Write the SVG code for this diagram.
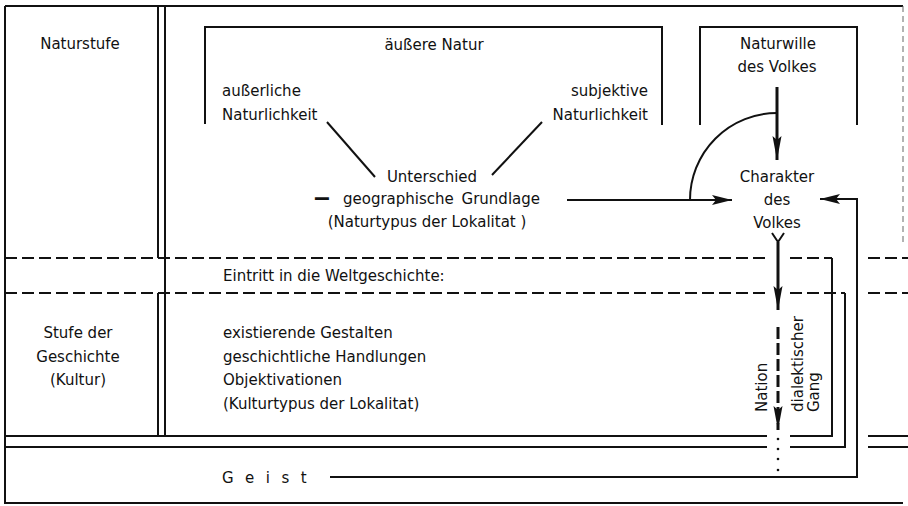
<svg xmlns="http://www.w3.org/2000/svg" width="908" height="506" viewBox="0 0 908 506">
<style>
  text { font-family: "DejaVu Sans", "Liberation Sans", sans-serif; font-size: 15px; fill: #111; }
  .mid { text-anchor: middle; }
  .end { text-anchor: end; }
  .ln { stroke: #111; stroke-width: 2; fill: none; }
  .dash { stroke: #111; stroke-width: 2; fill: none; stroke-dasharray: 12 5; }
  .thick { stroke: #111; stroke-width: 3; fill: none; }
  .faint { stroke: #666; stroke-width: 1; fill: none; stroke-dasharray: 6 4; }
</style>
<defs>
  <marker id="ah" markerUnits="userSpaceOnUse" markerWidth="20" markerHeight="10" refX="20" refY="5" orient="auto">
    <path d="M0,0 L20,5 L0,10 L4,5 z" fill="#111"/>
  </marker>
  <marker id="ahl" markerUnits="userSpaceOnUse" markerWidth="24" markerHeight="10" refX="24" refY="5" orient="auto">
    <path d="M0,0.5 L24,5 L0,9.5 L4,5 z" fill="#111"/>
  </marker>
</defs>
<rect width="908" height="506" fill="#fff"/>

<g id="frame">
  <path class="ln" d="M5,6 H903 M5,6 V503 H903"/>
  <path class="faint" d="M903,6 V245"/>
  <path class="ln" d="M158,6 V258 M165,6 V436 M158,293 V436"/>
  <path class="dash" d="M5,258 H767 M790,258 H832 M868,258 H908"/>
  <path class="dash" d="M5,293 H767 M790,293 H845 M868,293 H908"/>
  <path class="ln" d="M5,436 H767 M868,436 H908 M5,447 H767 M868,447 H908"/>
  <path class="ln" d="M832,258 V436 H790 M845,293 V447 H790"/>
</g>

<g id="n-naturstufe">
  <text class="mid" x="80" y="49">Naturstufe</text>
</g>

<g id="n-aeussere-natur">
  <path class="ln" d="M205,124 V27 H662 V125"/>
  <text class="mid" x="434" y="50">äußere Natur</text>
</g>

<g id="n-aeusserliche">
  <text x="222" y="96">außerliche</text>
  <text x="222" y="120">Naturlichkeit</text>
</g>

<g id="n-subjektive">
  <text class="end" x="648" y="96">subjektive</text>
  <text class="end" x="648" y="120">Naturlichkeit</text>
</g>

<g id="n-unterschied">
  <text class="mid" x="432" y="182">Unterschied</text>
  <text transform="translate(313,205) scale(1.7,1)" style="font-size:21px;font-weight:bold">–</text>
  <text x="343" y="204" word-spacing="3">geographische Grundlage</text>
  <text class="mid" x="427" y="227">(Naturtypus der Lokalitat )</text>
</g>

<g id="n-naturwille">
  <path class="ln" d="M700,125 V27 H857 V125"/>
  <text class="mid" x="778" y="49">Naturwille</text>
  <text class="mid" x="777" y="72">des Volkes</text>
</g>

<g id="n-charakter">
  <text class="mid" x="777" y="182">Charakter</text>
  <text class="mid" x="777" y="205">des</text>
  <text class="mid" x="777" y="228">Volkes</text>
</g>

<g id="n-eintritt">
  <text x="223" y="281">Eintritt in die Weltgeschichte:</text>
</g>

<g id="n-stufe-geschichte">
  <text class="mid" x="78" y="338">Stufe der</text>
  <text class="mid" x="78" y="362">Geschichte</text>
  <text class="mid" x="78" y="385">(Kultur)</text>
</g>

<g id="n-kultur">
  <text x="223" y="338">existierende Gestalten</text>
  <text x="223" y="362">geschichtliche Handlungen</text>
  <text x="223" y="385">Objektivationen</text>
  <text x="223" y="409">(Kulturtypus der Lokalitat)</text>
</g>

<g id="n-nation">
  <text transform="translate(767,412) rotate(-90)">Nation</text>
</g>

<g id="n-dialektisch">
  <text transform="translate(803,412) rotate(-90)">dialektischer</text>
  <text transform="translate(819,412) rotate(-90)">Gang</text>
</g>

<g id="n-geist">
  <text x="222" y="483" letter-spacing="11.5">Geist</text>
</g>

<g id="connectors">
  <path class="ln" d="M327,122 L375,177"/>
  <path class="ln" d="M492,175 L542,122"/>
  <path class="ln" d="M567,200 H732" marker-end="url(#ah)"/>
  <path class="ln" d="M690,200 A87,87 0 0 1 777,113"/>
  <path class="thick" d="M777,87 V160" marker-end="url(#ahl)"/>
  <path class="ln" d="M330,477 H857 V199 H820" marker-end="url(#ah)"/>
  <path class="ln" d="M772,233 L778,242 L784,233"/>
  <path class="thick" d="M778,242 V310" marker-end="url(#ahl)"/>
  <path class="thick" d="M778,327 V430" stroke-dasharray="12 4" marker-end="url(#ahl)"/>
  <g fill="#111">
    <circle cx="778" cy="439" r="1.3"/>
    <circle cx="778" cy="449" r="1.3"/>
    <circle cx="778" cy="459" r="1.3"/>
    <circle cx="778" cy="470" r="1.3"/>
  </g>
</g>
</svg>
